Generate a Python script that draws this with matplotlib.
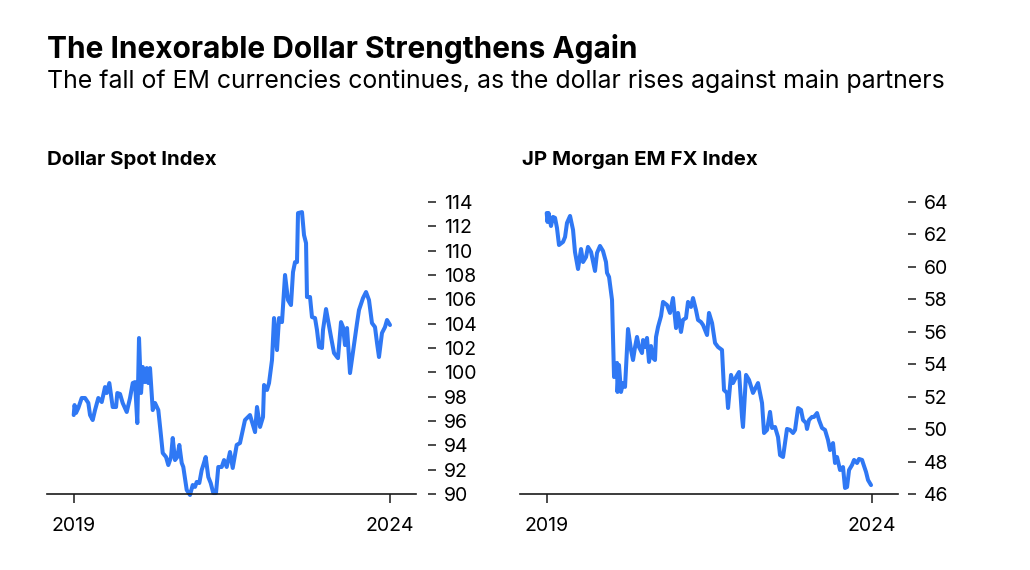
import matplotlib
matplotlib.use("Agg")
import matplotlib.pyplot as plt

plt.rcParams['font.family'] = ['Inter', 'DejaVu Sans']

title = "The Inexorable Dollar Strengthens Again"
subtitle = "The fall of EM currencies continues, as the dollar rises against main partners"
left_title = "Dollar Spot Index"
right_title = "JP Morgan EM FX Index"

x_ticks = [2019, 2024]
x_ticklabels = ["2019", "2024"]
dxy_yticks = [90, 92, 94, 96, 98, 100, 102, 104, 106, 108, 110, 112, 114]
em_yticks = [46, 48, 50, 52, 54, 56, 58, 60, 62, 64]

# Dollar Spot Index (decimal years, index level)
dxy_years = [2019.000, 2019.013, 2019.036, 2019.073, 2019.126, 2019.179, 2019.231, 2019.258,
             2019.300, 2019.337, 2019.389, 2019.443, 2019.495, 2019.522, 2019.563, 2019.616,
             2019.669, 2019.689, 2019.732, 2019.774, 2019.838, 2019.890, 2019.933, 2019.969,
             2020.005, 2020.032, 2020.064, 2020.091, 2020.127, 2020.154, 2020.179, 2020.206,
             2020.249, 2020.285, 2020.337, 2020.375, 2020.407, 2020.459, 2020.495, 2020.538,
             2020.565, 2020.601, 2020.637, 2020.669, 2020.707, 2020.732, 2020.786, 2020.838,
             2020.881, 2020.917, 2020.944, 2020.985, 2021.023, 2021.048, 2021.086, 2021.127,
             2021.165, 2021.206, 2021.249, 2021.285, 2021.339, 2021.376, 2021.418, 2021.470,
             2021.513, 2021.576, 2021.628, 2021.707, 2021.786, 2021.866, 2021.897, 2021.945,
             2021.992, 2022.008, 2022.055, 2022.087, 2022.134, 2022.166, 2022.213, 2022.245,
             2022.292, 2022.340, 2022.387, 2022.434, 2022.466, 2022.498, 2022.529, 2022.545,
             2022.608, 2022.640, 2022.672, 2022.687, 2022.735, 2022.766, 2022.814, 2022.845,
             2022.877, 2022.924, 2022.940, 2022.988, 2023.019, 2023.067, 2023.114, 2023.161,
             2023.177, 2023.225, 2023.256, 2023.288, 2023.320, 2023.367, 2023.414, 2023.478,
             2023.509, 2023.572, 2023.620, 2023.667, 2023.714, 2023.762, 2023.794, 2023.825,
             2023.872, 2023.920, 2023.952, 2023.999]
dxy_values = [96.49, 97.31, 96.66, 97.07, 97.89, 97.89, 97.48, 96.49,
              96.08, 96.90, 97.89, 97.56, 98.79, 98.30, 99.12, 97.15,
              97.15, 98.30, 98.22, 97.48, 96.74, 97.89, 99.12, 99.20,
              95.83, 102.82, 98.30, 100.44, 99.20, 100.35, 99.12, 100.35,
              96.90, 97.48, 96.90, 95.01, 93.37, 93.04, 92.38, 93.04,
              94.60, 92.79, 93.04, 94.03, 92.55, 92.22, 90.33, 89.92,
              90.74, 90.58, 90.99, 90.90, 91.97, 92.38, 93.04, 91.40,
              90.90, 90.08, 90.08, 92.22, 92.22, 92.79, 92.22, 93.45,
              92.14, 94.03, 94.19, 96.08, 96.49, 95.09, 97.15, 95.51,
              96.33, 98.96, 98.55, 99.12, 101.01, 104.46, 101.83, 104.46,
              104.13, 108.00, 105.94, 105.53, 108.24, 109.06, 109.06, 113.09,
              113.17, 111.28, 110.62, 106.19, 106.19, 104.54, 104.46, 103.48,
              102.08, 102.00, 103.48, 105.20, 104.30, 102.90, 101.59, 101.26,
              101.17, 104.13, 103.72, 102.24, 103.64, 99.94, 101.67, 104.05,
              105.12, 106.10, 106.60, 105.94, 104.05, 103.72, 102.41, 101.26,
              103.23, 103.72, 104.30, 103.89]

# JP Morgan EM FX Index (decimal years, index level)
em_years = [2019.000, 2019.012, 2019.028, 2019.066, 2019.097, 2019.128, 2019.158, 2019.189,
            2019.251, 2019.282, 2019.312, 2019.359, 2019.405, 2019.435, 2019.482, 2019.528,
            2019.559, 2019.605, 2019.635, 2019.682, 2019.743, 2019.774, 2019.820, 2019.866,
            2019.912, 2019.928, 2019.959, 2020.005, 2020.020, 2020.036, 2020.082, 2020.089,
            2020.112, 2020.143, 2020.174, 2020.205, 2020.251, 2020.297, 2020.328, 2020.359,
            2020.389, 2020.420, 2020.466, 2020.482, 2020.513, 2020.543, 2020.574, 2020.605,
            2020.636, 2020.666, 2020.682, 2020.713, 2020.759, 2020.790, 2020.851, 2020.897,
            2020.943, 2020.990, 2021.020, 2021.066, 2021.097, 2021.143, 2021.174, 2021.220,
            2021.251, 2021.297, 2021.328, 2021.374, 2021.405, 2021.467, 2021.497, 2021.544,
            2021.590, 2021.636, 2021.697, 2021.728, 2021.774, 2021.790, 2021.836, 2021.867,
            2021.913, 2021.959, 2022.005, 2022.020, 2022.067, 2022.113, 2022.174, 2022.221,
            2022.251, 2022.313, 2022.344, 2022.390, 2022.436, 2022.467, 2022.513, 2022.559,
            2022.590, 2022.636, 2022.667, 2022.697, 2022.744, 2022.790, 2022.821, 2022.867,
            2022.913, 2022.944, 2022.990, 2023.005, 2023.036, 2023.082, 2023.113, 2023.159,
            2023.190, 2023.236, 2023.282, 2023.328, 2023.359, 2023.405, 2023.436, 2023.467,
            2023.513, 2023.559, 2023.590, 2023.621, 2023.652, 2023.698, 2023.729, 2023.775,
            2023.805, 2023.852, 2023.867, 2023.913, 2023.944, 2023.990]
em_values = [63.32, 62.77, 63.32, 62.52, 63.08, 63.02, 62.40, 61.35,
             61.54, 61.84, 62.71, 63.14, 62.28, 60.92, 59.87, 61.10,
             60.30, 60.61, 61.23, 60.92, 59.75, 60.86, 61.29, 60.98,
             60.30, 59.63, 59.38, 57.96, 55.68, 53.21, 54.08, 52.29,
             53.95, 52.29, 52.84, 52.60, 56.17, 54.88, 54.26, 55.06,
             55.68, 55.06, 54.69, 55.49, 55.06, 55.62, 54.14, 55.12,
             54.38, 54.26, 55.68, 56.30, 56.97, 57.84, 57.65, 57.16,
             58.08, 56.23, 57.16, 55.99, 56.73, 56.85, 57.84, 57.53,
             58.08, 57.34, 56.73, 56.60, 56.42, 55.80, 57.16, 56.54,
             55.31, 55.06, 54.88, 52.41, 52.23, 51.30, 53.34, 52.84,
             53.21, 53.52, 50.75, 50.13, 53.34, 53.03, 52.23, 52.60,
             52.84, 51.61, 49.76, 49.95, 51.06, 50.07, 50.13, 49.51,
             48.40, 48.28, 49.14, 50.01, 49.95, 49.76, 49.95, 51.30,
             51.18, 50.56, 50.38, 50.01, 50.56, 50.75, 50.75, 50.99,
             50.56, 50.07, 49.95, 49.33, 48.71, 49.14, 47.91, 48.28,
             47.48, 47.66, 46.37, 46.43, 47.48, 47.79, 48.10, 47.91,
             48.16, 48.10, 47.91, 47.36, 46.86, 46.55]

LINE_COLOR = '#2f78f4'
AXIS_COLOR = '#1a1a1a'
W, H = 1030, 570

fig = plt.figure(figsize=(W / 100, H / 100), dpi=100)
fig.patch.set_facecolor('white')

def px_box(x0, x1, ytop, ybot):
    return [x0 / W, 1 - ybot / H, (x1 - x0) / W, (ybot - ytop) / H]

ax1 = fig.add_axes(px_box(46.7, 416, 202, 494))
ax2 = fig.add_axes(px_box(520, 898, 202, 494))

def style(ax, yticks, xlim, outward_px):
    ax.set_xlim(*xlim)
    ax.set_ylim(yticks[0], yticks[-1])
    for s in ['top', 'left']:
        ax.spines[s].set_visible(False)
    ax.spines['right'].set_position(('outward', outward_px * 0.72))
    ax.spines['right'].set_visible(False)
    ax.spines['bottom'].set_color(AXIS_COLOR)
    ax.spines['bottom'].set_linewidth(1.2)
    ax.yaxis.tick_right()
    ax.set_yticks(yticks)
    ax.set_yticklabels([str(v) for v in yticks])
    ax.set_xticks(x_ticks)
    ax.set_xticklabels(x_ticklabels)
    ax.tick_params(axis='y', direction='out', length=5.8, width=1.1, pad=5.5,
                   labelsize=14, color=AXIS_COLOR, labelcolor='black')
    ax.tick_params(axis='x', direction='out', length=6.5, width=1.1, pad=10,
                   labelsize=14, color=AXIS_COLOR, labelcolor='black')
    for lab in ax.get_yticklabels():
        lab.set_horizontalalignment('left')

ax1.plot(dxy_years, dxy_values, color=LINE_COLOR, lw=2.9, solid_joinstyle='round',
         solid_capstyle='round', clip_on=False)
ax2.plot(em_years, em_values, color=LINE_COLOR, lw=2.9, solid_joinstyle='round',
         solid_capstyle='round', clip_on=False)

style(ax1, dxy_yticks, (2018.573, 2024.41), 12)
style(ax2, em_yticks, (2018.589, 2024.405), 10)

fig.text(47 / W, 1 - 58 / H, title, fontsize=21.5, fontweight='bold', va='baseline', ha='left')
fig.text(47 / W, 1 - 88 / H, subtitle, fontsize=17.9, va='baseline', ha='left')
fig.text(47 / W, 1 - 165 / H, left_title, fontsize=14.7, fontweight='bold', va='baseline', ha='left')
fig.text(521.5 / W, 1 - 165 / H, right_title, fontsize=14.7, fontweight='bold', va='baseline', ha='left')

fig.savefig('out.png', dpi=100, facecolor='white')
